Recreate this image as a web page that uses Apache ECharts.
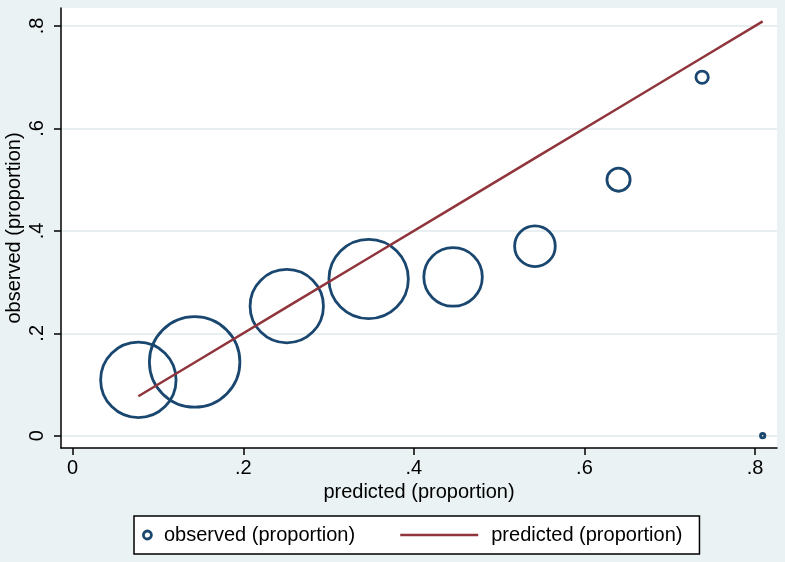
<!DOCTYPE html>
<html>
<head>
<meta charset="utf-8">
<script src="https://cdn.jsdelivr.net/npm/echarts@6/dist/echarts.min.js"></script>
<style>
  html, body { margin: 0; padding: 0; background: #eaf2f3; }
  #main { width: 785px; height: 562px; }
</style>
</head>
<body>
<div id="main"></div>
<script>
// calibration groups
var predicted = [0.077, 0.143, 0.251, 0.347, 0.446, 0.542, 0.640, 0.738, 0.809];
var observed  = [0.109, 0.144, 0.253, 0.306, 0.310, 0.370, 0.500, 0.700, 0.000];
var weight    = [148, 213, 140, 164, 89, 43, 14, 4, 0.5];
var tickValues = [0, 0.2, 0.4, 0.6, 0.8];

var navy = '#1a476f';
var maroon = '#90353b';
var font = "'Liberation Sans', Arial, sans-serif";

var scatterData = predicted.map(function (p, i) { return [p, observed[i], weight[i]]; });
var lineData = predicted.map(function (p) { return [p, p]; });

function tickFmt(v) {
    return v === 0 ? '0' : String(+v.toFixed(1)).replace(/^0/, '');
}

var myChart = echarts.init(document.getElementById('main'));

myChart.setOption({
    backgroundColor: '#eaf2f3',
    animation: false,
    grid: {
        left: 61, right: 8, top: 8, bottom: 114,
        outerBoundsMode: 'none',
        containLabel: false,
        show: true, backgroundColor: '#ffffff', borderWidth: 0
    },
    xAxis: {
        type: 'value',
        min: -0.0137, max: 0.8258,
        name: 'predicted (proportion)',
        nameLocation: 'middle',
        nameGap: 34,
        nameMoveOverlap: false,
        nameTextStyle: { fontSize: 20, color: '#000', fontFamily: font },
        axisLine: { show: true, onZero: false, lineStyle: { color: '#000', width: 1.5 } },
        axisTick: { show: true, length: 7, customValues: tickValues, lineStyle: { color: '#000', width: 1.5 } },
        axisLabel: { customValues: tickValues, formatter: tickFmt, fontSize: 20, color: '#000', fontFamily: font, margin: 10 },
        splitLine: { show: false }
    },
    yAxis: {
        type: 'value',
        min: -0.024, max: 0.8352,
        name: 'observed (proportion)',
        nameLocation: 'middle',
        nameGap: 37,
        nameMoveOverlap: false,
        nameTextStyle: { fontSize: 20, color: '#000', fontFamily: font },
        axisLine: { show: true, onZero: false, lineStyle: { color: '#000', width: 1.5 } },
        axisTick: { show: true, length: 7, customValues: tickValues, lineStyle: { color: '#000', width: 1.5 } },
        axisLabel: { customValues: tickValues, formatter: tickFmt, rotate: 90, fontSize: 20, color: '#000', fontFamily: font, margin: 14 },
        splitLine: { show: true, lineStyle: { color: '#e1eaed', width: 1.5 } }
    },
    legend: [{
        data: ['observed (proportion)'],
        left: 142, top: 525, padding: 0,
        itemWidth: 23, itemHeight: 8,
        icon: 'circle',
        itemStyle: { color: '#ffffff', borderColor: navy, borderWidth: 2.8, opacity: 1 },
        textStyle: { fontSize: 20, color: '#000', fontFamily: font },
        z: 6
    }, {
        data: ['predicted (proportion)'],
        left: 134, top: 516,
        padding: [9, 17, 9, 265],
        itemWidth: 78, itemHeight: 14,
        backgroundColor: '#ffffff',
        borderColor: '#000', borderWidth: 1.5, borderRadius: 0,
        itemStyle: { color: 'rgba(0,0,0,0)', borderWidth: 0, opacity: 0 },
        lineStyle: { width: 2.5 },
        textStyle: { fontSize: 20, color: '#000', fontFamily: font, padding: [0, 0, 0, 8] },
        z: 4
    }],
    series: [{
        name: 'observed (proportion)',
        type: 'scatter',
        data: scatterData,
        symbol: 'circle',
        symbolSize: function (v) { return 6.2 * Math.sqrt(v[2]); },
        itemStyle: { color: 'rgba(0,0,0,0)', borderColor: navy, borderWidth: 2.8, opacity: 1 },
        emphasis: { disabled: true },
        z: 2
    }, {
        name: 'predicted (proportion)',
        type: 'line',
        data: lineData,
        showSymbol: false,
        symbol: 'none',
        lineStyle: { color: maroon, width: 2.5 },
        itemStyle: { color: maroon },
        emphasis: { disabled: true },
        z: 3
    }]
});
</script>
</body>
</html>
